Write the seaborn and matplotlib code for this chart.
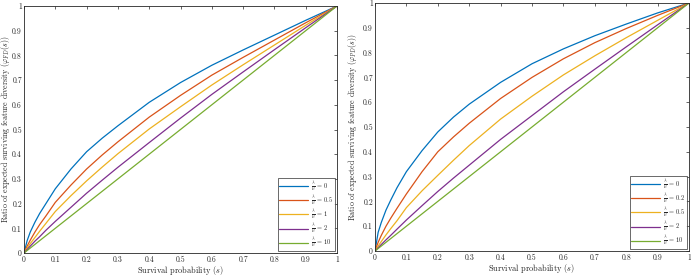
import numpy as np
import pandas as pd
import matplotlib
matplotlib.use("Agg")
import matplotlib.pyplot as plt
import seaborn as sns

s_vals = [0, 0.01, 0.02, 0.035, 0.05, 0.07, 0.1, 0.15, 0.2, 0.25, 0.3, 0.4, 0.5, 0.6, 0.7, 0.8, 0.9, 1.0]

left_labels = [r"$\frac{\lambda}{\mu}$ = 0", r"$\frac{\lambda}{\mu}$ = 0.5", r"$\frac{\lambda}{\mu}$ = 1",
               r"$\frac{\lambda}{\mu}$ = 2", r"$\frac{\lambda}{\mu}$ = 10"]
left_blue   = [0, 0.05, 0.085, 0.125, 0.16, 0.2, 0.26, 0.34, 0.41, 0.465, 0.515, 0.61, 0.69, 0.76, 0.822, 0.882, 0.942, 1.0]
left_red    = [0, 0.028, 0.052, 0.085, 0.115, 0.15, 0.205, 0.275, 0.34, 0.397, 0.45, 0.55, 0.638, 0.72, 0.792, 0.862, 0.932, 1.0]
left_yellow = [0, 0.02, 0.038, 0.063, 0.088, 0.12, 0.168, 0.232, 0.292, 0.348, 0.402, 0.502, 0.592, 0.68, 0.762, 0.842, 0.922, 1.0]
left_purple = [0, 0.014, 0.028, 0.048, 0.066, 0.092, 0.128, 0.185, 0.242, 0.295, 0.347, 0.447, 0.546, 0.642, 0.733, 0.823, 0.912, 1.0]
left_green  = [0, 0.01, 0.02, 0.035, 0.05, 0.07, 0.1, 0.15, 0.2, 0.25, 0.3, 0.4, 0.5, 0.6, 0.7, 0.8, 0.9, 1.0]

right_labels = [r"$\frac{\lambda}{\mu}$ = 0", r"$\frac{\lambda}{\mu}$ = 0.2", r"$\frac{\lambda}{\mu}$ = 0.5",
                r"$\frac{\lambda}{\mu}$ = 2", r"$\frac{\lambda}{\mu}$ = 10"]
right_blue   = [0, 0.075, 0.115, 0.165, 0.205, 0.255, 0.32, 0.405, 0.48, 0.54, 0.592, 0.68, 0.755, 0.815, 0.868, 0.915, 0.96, 1.0]
right_red    = [0, 0.035, 0.063, 0.1, 0.132, 0.172, 0.23, 0.32, 0.40, 0.46, 0.515, 0.615, 0.70, 0.775, 0.84, 0.897, 0.95, 1.0]
right_yellow = [0, 0.02, 0.038, 0.065, 0.09, 0.122, 0.175, 0.243, 0.305, 0.366, 0.425, 0.532, 0.624, 0.71, 0.787, 0.86, 0.93, 1.0]
right_purple = [0, 0.013, 0.026, 0.045, 0.063, 0.088, 0.125, 0.183, 0.24, 0.294, 0.346, 0.45, 0.546, 0.642, 0.733, 0.823, 0.912, 1.0]
right_green  = [0, 0.01, 0.02, 0.035, 0.05, 0.07, 0.1, 0.15, 0.2, 0.25, 0.3, 0.4, 0.5, 0.6, 0.7, 0.8, 0.9, 1.0]

colors = ["#0072BD", "#D95319", "#EDB120", "#7E2F8E", "#77AC30"]
ticks = [0, 0.1, 0.2, 0.3, 0.4, 0.5, 0.6, 0.7, 0.8, 0.9, 1]
tick_labels = ["0", "0.1", "0.2", "0.3", "0.4", "0.5", "0.6", "0.7", "0.8", "0.9", "1"]

sns.set_style("white")
plt.rcParams["font.family"] = ["cmr10", "DejaVu Serif"]
plt.rcParams["mathtext.fontset"] = "cm"
plt.rcParams["axes.unicode_minus"] = False

fig = plt.figure(figsize=(6.91, 2.75), dpi=100)
ax1 = fig.add_axes([24/691, 1 - 253/275, (337-24)/691, (253-6)/275])
ax2 = fig.add_axes([375/691, 1 - 251/275, (689-375)/691, (251-3)/275])

def build(series, labels):
    frames = []
    for vals, lab in zip(series, labels):
        frames.append(pd.DataFrame({"s": s_vals, "v": vals, "k": lab}))
    return pd.concat(frames, ignore_index=True)

panels = [
    (ax1, [left_blue, left_red, left_yellow, left_purple, left_green], left_labels,
     r"Ratio of expected surviving feature diversity ($\varphi_{FD}(s)$)", -0.037),
    (ax2, [right_blue, right_red, right_yellow, right_purple, right_green], right_labels,
     r"Ratio of expected surviving feature diversity ($\varphi_{PD}(s)$)", -0.052),
]

for ax, series, labels, ylab, ypos in panels:
    df = build(series, labels)
    sns.lineplot(data=df, x="s", y="v", hue="k", palette=colors, hue_order=labels,
                 ax=ax, linewidth=0.9, sort=True)
    ax.set_xlim(0, 1)
    ax.set_ylim(0, 1)
    ax.set_xticks(ticks)
    ax.set_xticklabels(tick_labels)
    ax.set_yticks(ticks)
    ax.set_yticklabels(tick_labels)
    ax.tick_params(direction="in", length=2, width=0.5, labelsize=5.5, pad=1.5,
                   top=True, right=True)
    for sp in ax.spines.values():
        sp.set_linewidth(0.6)
        sp.set_color("#262626")
    ax.set_xlabel(r"Survival probability ($s$)", fontsize=6, labelpad=0)
    ax.set_ylabel(ylab, fontsize=5.7)
    ax.yaxis.set_label_coords(ypos, 0.5)
    leg = ax.legend(loc="lower right", fontsize=4.6, frameon=True, fancybox=False,
                    handlelength=4.5, borderpad=0.25, labelspacing=0.05,
                    handletextpad=0.4, borderaxespad=0.35)
    leg.get_frame().set_edgecolor("#262626")
    leg.get_frame().set_linewidth(0.6)

fig.savefig("out.png", dpi=100)
